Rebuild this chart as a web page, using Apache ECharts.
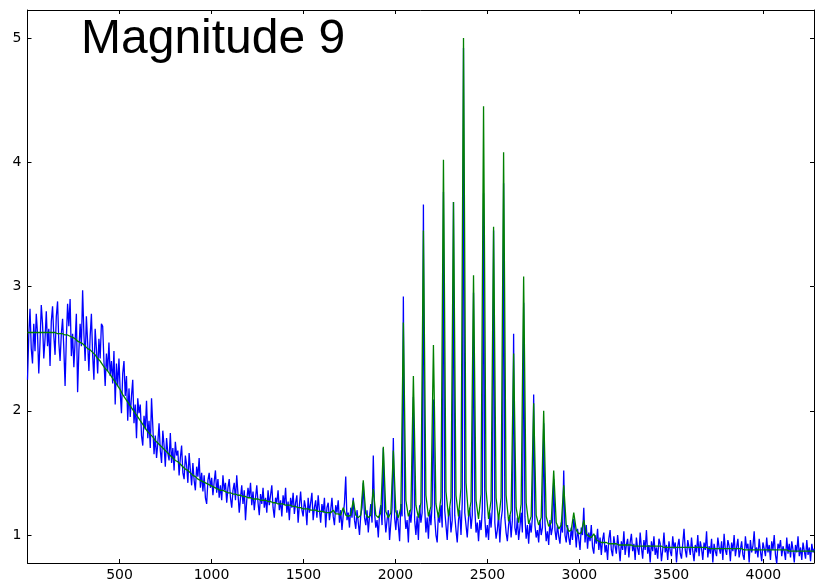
<!DOCTYPE html>
<html>
<head>
<meta charset="utf-8">
<script src="https://cdn.jsdelivr.net/npm/echarts@6/dist/echarts.min.js"></script>
<style>
  html, body { margin: 0; padding: 0; background: #fff; }
  #chart { width: 815px; height: 584px; }
</style>
</head>
<body>
<div id="chart"></div>
<script>
// Sample spacing along x for the measured trace and for the fitted model
const MEASURED_STEP = 6.81;
const FITTED_STEP = 13.62;

// Measured spectrum (noisy trace)
const measured = [
  2.25, 2.60, 2.82, 2.50, 2.38, 2.70, 2.48, 2.78, 2.62, 2.30,
  2.55, 2.85, 2.70, 2.42, 2.58, 2.80, 2.52, 2.66, 2.36, 2.72,
  2.84, 2.60, 2.45, 2.76, 2.88, 2.55, 2.40, 2.62, 2.74, 2.50,
  2.20, 2.58, 2.86, 2.68, 2.90, 2.44, 2.62, 2.35, 2.56, 2.78,
  2.15, 2.48, 2.70, 2.52, 2.97, 2.62, 2.40, 2.76, 2.55, 2.32,
  2.60, 2.78, 2.45, 2.25, 2.66, 2.50, 2.30, 2.58, 2.42, 2.70,
  2.68, 2.40, 2.20, 2.46, 2.32, 2.55, 2.28, 2.40, 2.22, 2.48,
  2.05, 2.38, 2.20, 2.42, 2.15, 1.98, 2.30, 2.40, 2.12, 2.28,
  1.92, 2.18, 1.95, 2.12, 2.25, 1.90, 2.05, 1.78, 2.10, 1.98,
  2.05, 1.80, 1.72, 1.96, 1.85, 2.08, 1.78, 1.92, 1.70, 2.10,
  1.88, 1.65, 1.80, 1.62, 1.74, 1.90, 1.68, 1.58, 1.84, 1.72,
  1.55, 1.78, 1.66, 1.60, 1.82, 1.58, 1.70, 1.52, 1.75, 1.64,
  1.68, 1.48, 1.62, 1.72, 1.50, 1.45, 1.64, 1.56, 1.42, 1.66,
  1.52, 1.40, 1.58, 1.44, 1.36, 1.55, 1.47, 1.62, 1.38, 1.50,
  1.35, 1.48, 1.30, 1.25, 1.44, 1.50, 1.38, 1.46, 1.32, 1.43,
  1.52, 1.34, 1.45, 1.30, 1.40, 1.28, 1.48, 1.36, 1.42, 1.26,
  1.38, 1.45, 1.30, 1.22, 1.36, 1.42, 1.28, 1.48, 1.33, 1.18,
  1.30, 1.40, 1.25, 1.36, 1.12, 1.28, 1.38, 1.30, 1.42, 1.24,
  1.35, 1.20, 1.30, 1.40, 1.26, 1.16, 1.33, 1.25, 1.38, 1.22,
  1.30, 1.18, 1.36, 1.24, 1.32, 1.40, 1.22, 1.14, 1.30, 1.26,
  1.36, 1.20, 1.28, 1.15, 1.32, 1.24, 1.38, 1.18, 1.27, 1.12,
  1.30, 1.22, 1.34, 1.17, 1.26, 1.32, 1.10, 1.24, 1.35, 1.20,
  1.15, 1.28, 1.22, 1.08, 1.30, 1.18, 1.26, 1.34, 1.12, 1.22,
  1.28, 1.14, 1.32, 1.20, 1.10, 1.25, 1.18, 1.30, 1.06, 1.22,
  1.26, 1.12, 1.20, 1.30, 1.15, 1.08, 1.24, 1.18, 1.28, 1.10,
  1.20, 1.04, 1.16, 1.26, 1.47, 1.12, 1.18, 1.06, 1.22, 1.14,
  1.30, 1.12, 1.05, 1.20, 1.10, 1.00, 1.16, 1.22, 1.42, 1.14,
  1.08, 1.20, 1.02, 1.15, 1.25, 1.10, 1.64, 1.18, 1.06, 1.12,
  0.98, 1.18, 1.24, 1.08, 1.70, 1.16, 1.02, 1.12, 1.20, 0.96,
  1.10, 1.22, 1.78, 1.14, 1.04, 1.20, 1.08, 0.95, 1.25, 1.15,
  2.92, 1.18, 1.05, 1.12, 0.94, 1.20, 1.10, 1.22, 2.11, 1.12,
  1.00, 1.15, 0.96, 1.24, 1.10, 1.18, 3.66, 1.22, 1.02, 1.14,
  0.97, 1.20, 1.08, 1.25, 2.09, 1.14, 1.00, 0.94, 1.18, 1.10,
  1.24, 1.06, 3.76, 1.20, 1.08, 0.96, 1.15, 1.22, 1.02, 1.12,
  3.68, 1.16, 1.04, 0.94, 1.12, 1.20, 1.00, 1.26, 4.92, 1.18,
  1.08, 0.98, 1.14, 1.22, 1.05, 1.16, 2.95, 1.22, 1.02, 1.10,
  0.95, 1.12, 1.04, 1.20, 3.75, 1.14, 0.98, 1.08, 0.96, 1.18,
  1.06, 1.22, 3.45, 1.10, 0.97, 1.04, 1.16, 0.94, 1.12, 1.20,
  3.83, 1.14, 1.02, 0.95, 1.08, 1.16, 0.98, 1.12, 2.62, 1.06,
  1.00, 1.14, 0.96, 1.06, 1.18, 1.02, 2.87, 1.15, 0.97, 1.08,
  0.93, 1.10, 1.02, 1.14, 2.13, 1.08, 0.98, 1.04, 0.94, 1.12,
  1.00, 1.06, 1.90, 1.10, 0.95, 1.03, 0.92, 1.12, 1.00, 1.06,
  1.45, 1.04, 0.96, 1.08, 0.99, 0.93, 1.10, 1.02, 1.52, 1.00,
  0.94, 1.08, 0.98, 0.92, 1.06, 0.96, 1.13, 1.04, 0.90, 1.05,
  0.97, 0.88, 1.06, 1.00, 1.22, 0.94, 1.08, 0.89, 1.02, 0.95,
  1.08, 0.90, 0.85, 1.00, 0.93, 1.05, 0.88, 0.98, 0.84, 0.96,
  1.02, 0.86, 0.92, 0.80, 0.97, 1.04, 0.88, 0.83, 0.99, 0.91,
  0.85, 1.00, 0.90, 0.79, 0.95, 0.88, 1.03, 0.84, 0.92, 0.97,
  0.82, 0.94, 1.01, 0.87, 0.93, 0.80, 0.98, 0.89, 0.84, 1.02,
  0.90, 0.81, 0.96, 0.88, 1.04, 0.85, 0.92, 0.78, 0.95, 0.87,
  0.99, 0.84, 0.90, 0.81, 0.97, 0.93, 0.79, 0.88, 1.02, 0.86,
  0.92, 0.80, 0.95, 0.87, 0.83, 0.99, 0.89, 0.94, 0.78, 0.91,
  0.97, 0.85, 0.81, 0.93, 1.05, 0.88, 0.82, 0.96, 0.90, 0.84,
  0.98, 0.87, 0.79, 0.92, 0.86, 1.00, 0.83, 0.95, 0.89, 0.80,
  0.94, 0.88, 1.03, 0.82, 0.91, 0.85, 0.97, 0.78, 0.93, 0.87,
  0.83, 0.98, 0.90, 0.85, 0.95, 0.80, 1.01, 0.88, 0.84, 0.96,
  0.91, 0.79, 0.94, 0.87, 1.00, 0.83, 0.90, 0.97, 0.82, 0.88,
  0.95, 0.84, 0.80, 0.99, 0.89, 0.93, 0.78, 0.96, 0.86, 0.91,
  1.03, 0.85, 0.90, 0.82, 0.97, 0.87, 0.79, 0.94, 0.89, 0.83,
  0.98, 0.86, 0.92, 0.80, 0.95, 0.88, 1.00, 0.84, 0.77, 0.93,
  0.89, 0.96, 0.83, 0.91, 0.87, 0.80, 0.98, 0.85, 0.93, 0.82,
  0.95, 0.88, 0.78, 0.92, 0.86, 0.99, 0.83, 0.90, 0.80, 0.94,
  0.87, 0.81, 0.96, 0.84, 0.90, 0.79, 0.93, 0.86, 0.89
];

// Fitted model (smooth background plus line comb)
const fitted = [
  2.63, 2.63, 2.63, 2.63, 2.63, 2.63, 2.63, 2.63, 2.63, 2.63,
  2.63, 2.63, 2.62, 2.62, 2.62, 2.61, 2.61, 2.60, 2.59, 2.58,
  2.56, 2.55, 2.54, 2.52, 2.50, 2.49, 2.47, 2.45, 2.42, 2.40,
  2.37, 2.34, 2.32, 2.29, 2.26, 2.23, 2.20, 2.17, 2.13, 2.10,
  2.07, 2.04, 2.01, 1.98, 1.95, 1.92, 1.89, 1.86, 1.83, 1.81,
  1.79, 1.76, 1.74, 1.72, 1.70, 1.68, 1.66, 1.64, 1.62, 1.60,
  1.59, 1.57, 1.55, 1.53, 1.52, 1.50, 1.48, 1.47, 1.45, 1.44,
  1.43, 1.42, 1.41, 1.40, 1.39, 1.38, 1.37, 1.36, 1.36, 1.35,
  1.34, 1.34, 1.33, 1.33, 1.32, 1.32, 1.31, 1.31, 1.30, 1.30,
  1.29, 1.29, 1.29, 1.28, 1.28, 1.28, 1.27, 1.27, 1.26, 1.26,
  1.25, 1.25, 1.25, 1.24, 1.24, 1.24, 1.23, 1.23, 1.22, 1.22,
  1.21, 1.21, 1.21, 1.20, 1.20, 1.20, 1.19, 1.19, 1.19, 1.18,
  1.18, 1.18, 1.20, 1.17, 1.17, 1.16, 1.22, 1.16, 1.15, 1.16,
  1.28, 1.16, 1.14, 1.16, 1.44, 1.17, 1.14, 1.16, 1.37, 1.16,
  1.14, 1.18, 1.71, 1.19, 1.14, 1.18, 1.68, 1.19, 1.14, 1.22,
  2.71, 1.28, 1.15, 1.21, 2.28, 1.24, 1.14, 1.26, 3.45, 1.32,
  1.15, 1.23, 2.53, 1.25, 1.14, 1.30, 4.02, 1.35, 1.15, 1.30,
  3.68, 1.32, 1.15, 1.38, 5.00, 1.42, 1.15, 1.27, 3.09, 1.28,
  1.13, 1.33, 4.45, 1.36, 1.13, 1.28, 3.48, 1.30, 1.12, 1.30,
  4.08, 1.32, 1.11, 1.20, 2.46, 1.22, 1.10, 1.25, 3.08, 1.26,
  1.09, 1.15, 2.06, 1.16, 1.08, 1.14, 2.00, 1.15, 1.07, 1.10,
  1.52, 1.10, 1.05, 1.08, 1.40, 1.08, 1.03, 1.04, 1.18, 1.04,
  1.01, 1.02, 1.12, 1.01, 0.99, 0.98, 1.01, 0.96, 0.95, 0.94,
  0.94, 0.94, 0.93, 0.93, 0.93, 0.93, 0.92, 0.92, 0.92, 0.92,
  0.92, 0.92, 0.91, 0.91, 0.91, 0.91, 0.91, 0.91, 0.91, 0.91,
  0.91, 0.91, 0.91, 0.91, 0.90, 0.90, 0.90, 0.90, 0.90, 0.90,
  0.90, 0.90, 0.90, 0.90, 0.90, 0.90, 0.90, 0.90, 0.90, 0.90,
  0.90, 0.90, 0.89, 0.89, 0.89, 0.89, 0.89, 0.89, 0.89, 0.89,
  0.89, 0.89, 0.89, 0.89, 0.89, 0.89, 0.88, 0.88, 0.88, 0.88,
  0.88, 0.88, 0.88, 0.88, 0.88, 0.88, 0.88, 0.88, 0.88, 0.88,
  0.88, 0.88, 0.88, 0.88, 0.87, 0.87, 0.87, 0.87, 0.87, 0.87,
  0.87, 0.87, 0.87, 0.87, 0.87
];

const xTicks = [500, 1000, 1500, 2000, 2500, 3000, 3500, 4000];
const yTicks = [1, 2, 3, 4, 5];
const X_RANGE = [0, 4275];
const Y_RANGE = [0.775, 5.225];

const toPairs = (vals, step) => vals.map((v, i) => [i * step, v]);

const tickFont = { color: '#000', fontSize: 14, fontFamily: 'DejaVu Sans' };
const lineStyle = { color: '#000', width: 1 };
const plain = v => String(v);

function xAxisDef(position, showLabels) {
  return {
    type: 'value', position, min: X_RANGE[0], max: X_RANGE[1],
    axisLine: { show: true, onZero: false, lineStyle },
    axisTick: { show: true, inside: true, length: 4, lineStyle, customValues: xTicks },
    axisLabel: Object.assign({ show: showLabels, margin: 5, customValues: xTicks, formatter: plain }, tickFont),
    splitLine: { show: false }
  };
}
function yAxisDef(position, showLabels) {
  return {
    type: 'value', position, min: Y_RANGE[0], max: Y_RANGE[1],
    axisLine: { show: true, onZero: false, lineStyle },
    axisTick: { show: true, inside: true, length: 4, lineStyle, customValues: yTicks },
    axisLabel: Object.assign({ show: showLabels, margin: 6, customValues: yTicks, formatter: plain }, tickFont),
    splitLine: { show: false }
  };
}

const chart = echarts.init(document.getElementById('chart'), null, { renderer: 'canvas' });
chart.setOption({
  animation: false,
  backgroundColor: '#fff',
  grid: { left: 27.5, right: 1, top: 10, bottom: 21, containLabel: false, outerBoundsMode: 'none' },
  xAxis: [xAxisDef('bottom', true), xAxisDef('top', false)],
  yAxis: [yAxisDef('left', true), yAxisDef('right', false)],
  graphic: [{
    type: 'text', left: 81, top: 16, z: 100,
    style: { text: 'Magnitude 9', font: '48px "Liberation Sans", Arial, sans-serif', fill: '#000' }
  }],
  series: [
    {
      name: 'measured', type: 'line', xAxisIndex: 0, yAxisIndex: 0,
      data: toPairs(measured, MEASURED_STEP), showSymbol: false, symbol: 'none',
      lineStyle: { color: '#0000ff', width: 1.3 }, z: 2
    },
    {
      name: 'fitted', type: 'line', xAxisIndex: 0, yAxisIndex: 0,
      data: toPairs(fitted, FITTED_STEP), showSymbol: false, symbol: 'none',
      lineStyle: { color: '#008000', width: 1.3 }, z: 3
    }
  ]
});
</script>
</body>
</html>
